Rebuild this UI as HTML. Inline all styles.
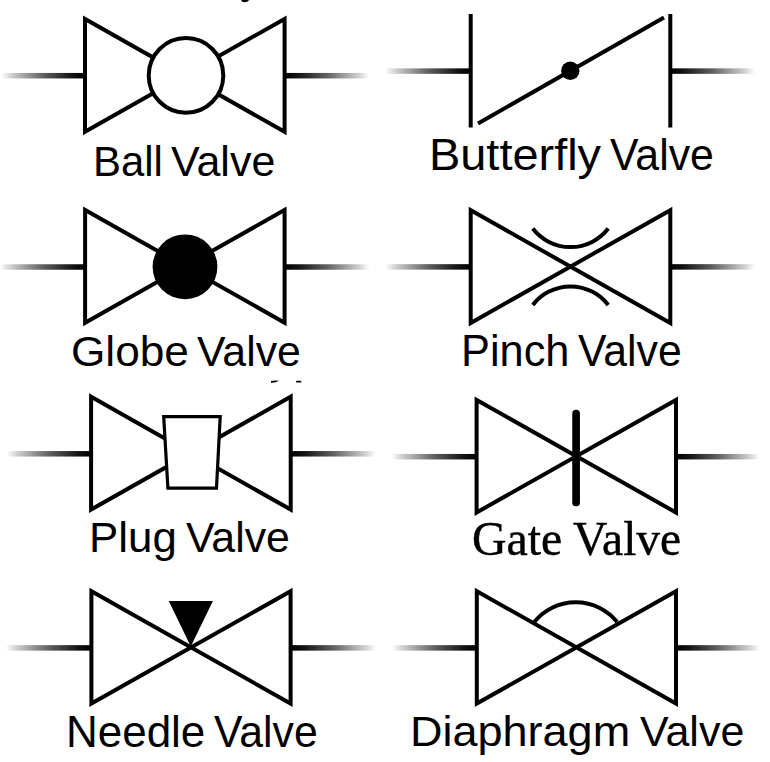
<!DOCTYPE html>
<html><head><meta charset="utf-8">
<style>
html,body{margin:0;padding:0;background:#fff;width:770px;height:762px;overflow:hidden}
svg{position:absolute;left:0;top:0}
.s{fill:none;stroke:#000;stroke-width:4;stroke-linejoin:miter;stroke-miterlimit:10}
.t{position:absolute;transform-origin:0 0;color:#000;white-space:nowrap;line-height:1}
</style></head><body>
<svg width="770" height="762" viewBox="0 0 770 762">
<defs>
<linearGradient id="gl" x1="0" x2="1" y1="0" y2="0">
<stop offset="0" stop-color="#000" stop-opacity="0"/>
<stop offset="0.12" stop-color="#000" stop-opacity="0.18"/>
<stop offset="0.5" stop-color="#000" stop-opacity="0.62"/>
<stop offset="0.85" stop-color="#000" stop-opacity="0.93"/>
<stop offset="1" stop-color="#000" stop-opacity="1"/>
</linearGradient>
<linearGradient id="gr" x1="1" x2="0" y1="0" y2="0">
<stop offset="0" stop-color="#000" stop-opacity="0"/>
<stop offset="0.12" stop-color="#000" stop-opacity="0.18"/>
<stop offset="0.5" stop-color="#000" stop-opacity="0.62"/>
<stop offset="0.85" stop-color="#000" stop-opacity="0.93"/>
<stop offset="1" stop-color="#000" stop-opacity="1"/>
</linearGradient>
</defs>
<rect x="1" y="72.95" width="84.00" height="5.5" fill="url(#gl)"/>
<rect x="284.6" y="72.95" width="84.40" height="5.5" fill="url(#gr)"/>
<path class="s" d="M85 18.9 L85 131.8 L284.6 18.9 L284.6 131.8 Z"/>
<circle class="s" cx="186" cy="75.4" r="37.3" style="fill:#fff"/>
<rect x="385" y="68.35" width="85.70" height="5.5" fill="url(#gl)"/>
<rect x="670.3" y="68.35" width="84.70" height="5.5" fill="url(#gr)"/>
<path class="s" d="M470.7 14 V127.5 M670.3 14 V127.5 M478 123.5 L664 17.4"/>
<circle cx="570.3" cy="70.8" r="9.2"/>
<rect x="0" y="264.25" width="85.10" height="5.5" fill="url(#gl)"/>
<rect x="284.6" y="264.25" width="85.00" height="5.5" fill="url(#gr)"/>
<path class="s" d="M85.1 210 L85.1 322.7 L284.6 210 L284.6 322.7 Z"/>
<circle cx="185" cy="266.8" r="32.4"/>
<rect x="385" y="264.15" width="85.70" height="5.5" fill="url(#gl)"/>
<rect x="670.3" y="264.15" width="84.70" height="5.5" fill="url(#gr)"/>
<path class="s" d="M470.7 210.2 L470.7 323 L670.3 210.2 L670.3 323 Z"/>
<path class="s" d="M532.8 228.5 A47.5 47.5 0 0 0 608.2 228.5 M532.8 305 A47.5 47.5 0 0 1 608.2 305"/>
<rect x="6.5" y="451.05" width="84.60" height="5.5" fill="url(#gl)"/>
<rect x="290.7" y="451.05" width="85.30" height="5.5" fill="url(#gr)"/>
<path class="s" d="M91.1 396.8 L91.1 509.6 L290.7 396.8 L290.7 509.6 Z"/>
<path class="s" d="M163.7 416.6 L220.2 416.6 L216.5 488.1 L167.9 488.1 Z" style="fill:#fff;stroke-width:3.2"/>
<rect x="391.5" y="453.95" width="85.10" height="5.5" fill="url(#gl)"/>
<rect x="676" y="453.95" width="83.60" height="5.5" fill="url(#gr)"/>
<path class="s" d="M476.6 399.9 L476.6 512.5 L676 399.9 L676 512.5 Z"/>
<path class="s" d="M576.1 413.7 V502.5" style="stroke-width:7.7;stroke-linecap:round"/>
<rect x="5.8" y="645.15" width="85.60" height="5.5" fill="url(#gl)"/>
<rect x="290.6" y="645.15" width="85.40" height="5.5" fill="url(#gr)"/>
<path class="s" d="M91.4 591.2 L91.4 703.6 L290.6 591.2 L290.6 703.6 Z"/>
<path d="M168.8 601 L212.9 601 L190.8 646.5 Z"/>
<rect x="392" y="645.15" width="84.80" height="5.5" fill="url(#gl)"/>
<rect x="676" y="645.15" width="83.60" height="5.5" fill="url(#gr)"/>
<path class="s" d="M476.8 591.2 L476.8 703.6 L676 591.2 L676 703.6 Z"/>
<path class="s" d="M534.3 622 A53.3 53.3 0 0 1 617.1 622"/>
<path d="M241.2 -1 L249.8 -1 Q248.5 2.2 244 2.3 Q241.2 2.2 241.2 -1Z"/>
<path d="M271 381 Q275 380.3 279 380.8 Q276 383 271 382.8 Z"/>
<rect x="296" y="380.8" width="5.4" height="1.8" rx="0.9"/>
</svg>
<div class="t" style="left:92.55px;top:139.67px;font-size:43.23px;font-family:'Liberation Sans',sans-serif;transform:scaleX(0.9694)">Ball</div>
<div class="t" style="left:171.09px;top:139.67px;font-size:43.23px;font-family:'Liberation Sans',sans-serif;transform:scaleX(0.9942)">Valve</div>
<div class="t" style="left:429.05px;top:132.99px;font-size:43.92px;font-family:'Liberation Sans',sans-serif;transform:scaleX(1.0682)">Butterfly</div>
<div class="t" style="left:609.99px;top:132.99px;font-size:43.92px;font-family:'Liberation Sans',sans-serif;transform:scaleX(0.9748)">Valve</div>
<div class="t" style="left:70.59px;top:329.76px;font-size:43.08px;font-family:'Liberation Sans',sans-serif;transform:scaleX(1.0258)">Globe</div>
<div class="t" style="left:197.09px;top:329.76px;font-size:43.08px;font-family:'Liberation Sans',sans-serif;transform:scaleX(0.9928)">Valve</div>
<div class="t" style="left:461.23px;top:329.34px;font-size:44.33px;font-family:'Liberation Sans',sans-serif;transform:scaleX(0.9779)">Pinch</div>
<div class="t" style="left:578.19px;top:329.34px;font-size:44.33px;font-family:'Liberation Sans',sans-serif;transform:scaleX(0.9639)">Valve</div>
<div class="t" style="left:89.39px;top:515.75px;font-size:43.37px;font-family:'Liberation Sans',sans-serif;transform:scaleX(1.0118)">Plug</div>
<div class="t" style="left:185.79px;top:515.75px;font-size:43.37px;font-family:'Liberation Sans',sans-serif;transform:scaleX(0.9872)">Valve</div>
<div class="t" style="left:472.08px;top:515.26px;font-size:48.81px;font-family:'Liberation Serif',serif;-webkit-text-stroke:0.45px #000;transform:scaleX(0.981)">Gate</div>
<div class="t" style="left:573.32px;top:515.26px;font-size:48.81px;font-family:'Liberation Serif',serif;-webkit-text-stroke:0.45px #000;transform:scaleX(0.9739)">Valve</div>
<div class="t" style="left:65.98px;top:710.74px;font-size:43.51px;font-family:'Liberation Sans',sans-serif;transform:scaleX(1.0107)">Needle</div>
<div class="t" style="left:213.69px;top:710.74px;font-size:43.51px;font-family:'Liberation Sans',sans-serif;transform:scaleX(0.9822)">Valve</div>
<div class="t" style="left:410.3px;top:710.35px;font-size:43.37px;font-family:'Liberation Sans',sans-serif;transform:scaleX(1.038)">Diaphragm</div>
<div class="t" style="left:639.79px;top:710.35px;font-size:43.37px;font-family:'Liberation Sans',sans-serif;transform:scaleX(0.9911)">Valve</div>
</body></html>
